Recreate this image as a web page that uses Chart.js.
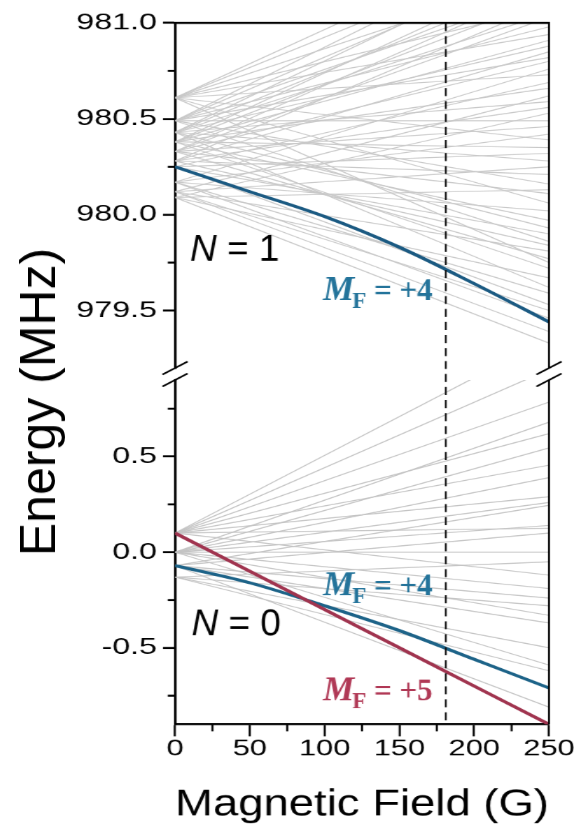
<!DOCTYPE html>
<html><head><meta charset="utf-8">
<script src="https://cdn.jsdelivr.net/npm/chart.js@4.4.1/dist/chart.umd.min.js"></script>
<style>
html,body{margin:0;padding:0;background:#fff;width:574px;height:839px;overflow:hidden;}
#stretch{position:absolute;left:0;top:0;width:430px;height:839px;transform:scaleX(1.4);transform-origin:0 0;}
#topCanvas{position:absolute;left:0;top:0;}
#botCanvas{position:absolute;left:0;top:360px;}
#ytitle{position:absolute;left:38px;top:402px;transform:translate(-50%,-50%) rotate(-90deg);font:50px "Liberation Sans",Arial,sans-serif;color:#000;white-space:nowrap;line-height:1;}
</style></head><body>
<div id="stretch"><canvas id="topCanvas" width="430" height="400"></canvas><canvas id="botCanvas" width="430" height="479"></canvas></div>
<div id="ytitle">Energy (MHz)</div>
<script>
// ---------------- data ----------------
const curveField = [0, 50, 100, 150, 200, 250];            // G
const n1MF4 = [980.25, 980.12, 979.99, 979.83, 979.64, 979.44]; // MHz, N=1, MF=+4
const n0MF4 = [-0.07, -0.16, -0.28, -0.41, -0.56, -0.71];       // MHz, N=0, MF=+4
const n0MF5 = [0.10, -0.10, -0.30, -0.50, -0.70, -0.90];        // MHz, N=0, MF=+5
const levelField = [0, 250];                                     // G, grey levels
const n1GrayStart = [980.61,980.49,980.61,980.43,980.49,980.38,980.61,980.43,980.33,980.49,980.38,980.28,980.61,980.43,980.33,
  980.49,980.61,980.38,980.43,980.28,980.49,980.33,980.17,980.61,980.25,980.38,980.12,980.43,980.28,980.09,980.49,980.33,980.17,
  980.61,980.38,980.25,980.43,980.12,980.28,980.49,980.09,980.33,980.61,980.17,980.38,980.43,980.25,980.49,980.28,980.12,980.33,
  980.61,980.38,980.09,980.43,980.17,980.25,980.12,980.17,980.12,980.09];
const n1GrayEnd = [981.50,981.45,981.40,981.36,981.32,981.28,981.25,981.22,981.19,981.16,981.13,981.10,981.08,981.05,981.03,
  980.98,980.94,980.91,980.88,980.85,980.82,980.80,980.76,980.73,980.69,980.66,980.62,980.59,980.56,980.53,980.49,980.46,980.42,
  980.39,980.35,980.32,980.28,980.25,980.21,980.16,980.13,980.11,980.06,980.02,979.97,979.93,979.90,979.86,979.84,979.81,979.77,
  979.75,979.72,979.67,979.62,979.59,979.53,979.50,979.46,979.39,979.33];
const n0GrayStart = [0.10,0.10,0.10,0.00,0.10,0.00,0.10,0.00,0.10,0.00,-0.07,0.00,0.10,-0.07,0.00,-0.13,0.10,0.00,-0.07,-0.13,0.00,-0.07,-0.13,0.00,-0.13,-0.07];
const n0GrayEnd = [1.115,0.955,0.785,0.68,0.62,0.545,0.455,0.39,0.29,0.26,0.245,0.14,0.125,0.10,0.00,-0.05,-0.12,-0.19,-0.24,-0.28,-0.33,-0.37,-0.50,-0.59,-0.62,-0.81];
const markerField = 181;            // G, dashed line
const topEnergyRange = [979.2, 981.0];
const botEnergyRange = [-0.9, 0.9];
const fieldRange = [0, 250];
const fieldStep = 25, fieldLabelStep = 50;
const energyStep = 0.25, energyLabelStep = 0.5;

// ---------------- styling ----------------
const S = 1.4;          // horizontal stretch of the reference figure
const FONT = '"Liberation Sans", Arial, sans-serif';
const SERIF = '"Liberation Serif", "Times New Roman", serif';
const blueLine = '#1b5a82', blueText = '#23739a', redLine = '#a0344f', redText = '#b03855';
const isMult = (v, m) => Math.abs(v / m - Math.round(v / m)) < 1e-6;
const pts = (xs, ys) => xs.map((x, i) => ({x, y: ys[i]}));

function grayDatasets(starts, ends, color) {
  return starts.map((s, i) => ({
    data: pts(levelField, [s, ends[i]]), borderColor: color, borderWidth: 1,
    pointRadius: 0, tension: 0
  }));
}
function mainDataset(ys, color) {
  return {data: pts(curveField, ys), borderColor: color, borderWidth: 3, pointRadius: 0, cubicInterpolationMode: 'monotone'};
}

function line(ctx, x1, y1, x2, y2) { ctx.beginPath(); ctx.moveTo(x1, y1); ctx.lineTo(x2, y2); ctx.stroke(); }

const framePlugin = {
  id: 'frame',
  afterDatasetsDraw(chart, args, o) {
    const {ctx, chartArea: a, scales} = chart;
    const xp = scales.x.getPixelForValue(markerField);
    ctx.save();
    ctx.strokeStyle = '#111'; ctx.lineWidth = 1.3; ctx.setLineDash([8, 5]);
    ctx.lineDashOffset = o.dashOffset || 0;
    line(ctx, xp, a.top, xp, a.bottom + (o.dashExtra || 0));
    ctx.restore();
  },
  afterDraw(chart, args, o) {
    const {ctx, chartArea: a, scales} = chart;
    ctx.save();
    ctx.strokeStyle = '#000'; ctx.lineCap = 'butt';
    const y = scales.y;
    ctx.lineWidth = 2;
    y.ticks.forEach(t => {
      if (isMult(t.value, energyStep) && !isMult(t.value, energyLabelStep)) {
        const p = y.getPixelForValue(t.value); line(ctx, a.left - 5.2, p, a.left, p);
      }
    });
    if (o.xAxis) {
      const x = scales.x; ctx.lineWidth = 1.5;
      x.ticks.forEach(t => {
        if (!isMult(t.value, fieldLabelStep)) { const p = x.getPixelForValue(t.value); line(ctx, p, a.bottom, p, a.bottom + 7); }
      });
    }
    if (o.topBorder) { ctx.lineWidth = 2; line(ctx, a.left - 0.9, a.top, a.right + 0.7, a.top); }
    ctx.lineWidth = 1.4; line(ctx, a.right, a.top, a.right, a.bottom);
    if (o.breakBelow) {
      ctx.lineWidth = 1.6;
      [a.left, a.right].forEach(xe => {
        [a.bottom, a.bottom + 12].forEach(yc => line(ctx, xe - 9, yc + 6.5, xe + 9, yc - 6.5));
      });
    }
    // annotations
    (o.labels || []).forEach(l => {
      const px = scales.x.getPixelForValue(l.x), py = y.getPixelForValue(l.y);
      ctx.save(); ctx.translate(px, py); ctx.scale(l.sx / S, 1);
      ctx.textBaseline = 'alphabetic'; ctx.textAlign = 'left';
      let cx = 0;
      l.parts.forEach(p => {
        ctx.font = p.font; ctx.fillStyle = p.color || l.color || '#000';
        cx += p.dx || 0;
        ctx.fillText(p.text, cx, p.dy || 0);
        cx += ctx.measureText(p.text).width;
      });
      ctx.restore();
    });
    ctx.restore();
  }
};

function mfLabel(x, y, num, color) {
  return {x, y, color, sx: 1.0, parts: [
    {text: 'M', font: `italic bold 35px ${SERIF}`},
    {text: 'F', font: `bold 23px ${SERIF}`, dx: -2, dy: 8},
    {text: ' = +' + num, font: `bold 31px ${SERIF}`, dx: 0}
  ]};
}
function nLabel(x, y, n) {
  return {x, y, color: '#000', sx: 1.0, parts: [
    {text: 'N', font: `italic 37px ${FONT}`},
    {text: ' = ' + n, font: `37px ${FONT}`}
  ]};
}

function yScale(range) {
  return {
    type: 'linear', min: range[0], max: range[1],
    ticks: {stepSize: energyStep, autoSkip: false, padding: 4.3, color: '#000', font: {family: FONT, size: 23},
      callback: v => isMult(v, energyLabelStep) ? Number(v).toFixed(1) : ''},
    grid: {drawOnChartArea: false, drawTicks: true, tickLength: 8.6, tickWidth: 2,
      tickColor: c => (c.tick && isMult(c.tick.value, energyLabelStep)) ? '#000' : 'rgba(0,0,0,0)'},
    border: {display: true, color: '#000', width: 1.8},
    afterFit: s => { s.width = 125; }
  };
}
const common = {responsive: false, animation: false, devicePixelRatio: S, events: [],
  plugins: {legend: {display: false}, tooltip: {enabled: false}}};
const rightPad = 430 - 392.14;

new Chart(document.getElementById('topCanvas'), {
  type: 'line',
  data: {datasets: [mainDataset(n1MF4, blueLine), ...grayDatasets(n1GrayStart, n1GrayEnd, '#c9c9c9')]},
  options: {...common,
    layout: {padding: {top: 23, bottom: 32, left: 0, right: rightPad}},
    scales: {
      x: {type: 'linear', min: fieldRange[0], max: fieldRange[1], display: false},
      y: yScale(topEnergyRange)
    },
    plugins: {...common.plugins, frame: {topBorder: true, breakBelow: true, dashExtra: 12,
      labels: [nLabel(10, 979.76, 1), mfLabel(99, 979.555, 4, blueText)]}}
  },
  plugins: [framePlugin]
});

new Chart(document.getElementById('botCanvas'), {
  type: 'line',
  data: {datasets: [mainDataset(n0MF5, redLine), mainDataset(n0MF4, '#1d6388'), ...grayDatasets(n0GrayStart, n0GrayEnd, '#c4c4c4')]},
  options: {...common,
    layout: {padding: {top: 20, bottom: 0, left: 0, right: rightPad}},
    scales: {
      x: {type: 'linear', min: fieldRange[0], max: fieldRange[1],
        ticks: {stepSize: fieldStep, autoSkip: false, maxRotation: 0, padding: 0, color: '#000', font: {family: FONT, size: 22},
          callback: v => isMult(v, fieldLabelStep) ? String(Math.round(v)) : ''},
        grid: {drawOnChartArea: false, drawTicks: true, tickLength: 12, tickWidth: 1.5,
          tickColor: c => (c.tick && isMult(c.tick.value, fieldLabelStep)) ? '#000' : 'rgba(0,0,0,0)'},
        border: {display: true, color: '#000', width: 2},
        title: {display: true, text: 'Magnetic Field (G)', color: '#000', font: {family: FONT, size: 37}, padding: {top: 0, bottom: 12}},
        afterFit: s => { s.height = 115; }
      },
      y: yScale(botEnergyRange)
    },
    plugins: {...common.plugins, frame: {xAxis: true, dashOffset: 6,
      labels: [nLabel(11, -0.435, 0), mfLabel(99, -0.225, 4, blueText), mfLabel(99, -0.775, 5, redText)]}}
  },
  plugins: [framePlugin]
});
</script></body></html>
